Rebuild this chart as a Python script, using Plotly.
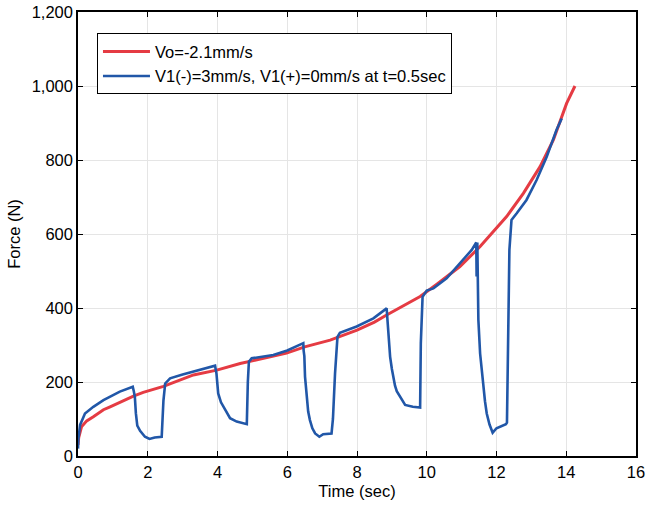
import plotly.graph_objects as go

# Red series: Vo = -2.1 mm/s
red_t = [0, 0.02, 0.1, 0.25, 0.44, 0.73, 0.92, 1.3, 1.59, 1.87, 2.45, 3.31, 3.98, 4.65,
         5.5, 5.98, 6.5, 7.23, 8.0, 8.5, 8.85, 9.3, 9.81, 10.3, 10.95, 11.53, 12.29,
         12.77, 13.25, 13.63, 14.01, 14.25]
red_f = [30, 50, 79, 95, 106, 125, 133, 150, 162, 172, 188, 219, 232, 250,
         268, 278, 295, 313, 340, 362, 381, 405, 431, 465, 512, 566, 647,
         710, 782, 854, 953, 1000]

# Blue series: V1(-)=3mm/s, V1(+)=0mm/s at t=0.5sec
blue_t = [0, 0.01, 0.06, 0.2, 0.44, 0.73, 1.2, 1.57, 1.6, 1.63, 1.66, 1.7, 1.78, 1.85,
          1.92, 2.05, 2.2, 2.4, 2.45, 2.5, 2.64, 3.0, 3.5, 3.93, 3.97, 4.02, 4.1, 4.17,
          4.26, 4.36, 4.55, 4.79, 4.84, 4.87, 4.9, 4.98, 5.6, 6.0, 6.46, 6.47, 6.49,
          6.51, 6.56, 6.6, 6.65, 6.72, 6.8, 6.92, 7.03, 7.27, 7.31, 7.37, 7.44, 7.51,
          7.99, 8.47, 8.85, 8.9, 8.95, 9.0, 9.04, 9.09, 9.14, 9.23, 9.38, 9.6, 9.81,
          9.83, 9.88, 10.0, 10.19, 10.57, 10.95, 11.29, 11.42, 11.43, 11.45, 11.48,
          11.53, 11.58, 11.62, 11.67, 11.72, 11.8, 11.89, 12.0, 12.27, 12.3, 12.37,
          12.43, 12.58, 12.86, 13.15, 13.44, 13.58, 13.72, 13.87]
blue_f = [20, 45, 84, 115, 133, 151, 174, 187, 175, 160, 115, 82, 68, 59,
          52, 46, 50, 52, 150, 196, 210, 220, 232, 244, 223, 169, 145, 133,
          115, 102, 93, 88, 86, 200, 255, 264, 273, 285, 305, 285, 270,
          214, 151, 120, 97, 75, 61, 52, 59, 61, 100, 223, 322, 333,
          350, 372, 399, 341, 268, 235, 214, 190, 175, 160, 138, 133, 131,
          305, 430, 447, 453, 480, 521, 557, 577, 485, 577, 368,
          277, 225, 187, 148, 115, 85, 63, 75, 86, 90, 557,
          638, 656, 692, 746, 809, 845, 881, 912]

x_ticks = [0, 2, 4, 6, 8, 10, 12, 14, 16]
y_ticks = [0, 200, 400, 600, 800, 1000, 1200]

RED = "#e53b43"
BLUE = "#2157a8"
FONT = "Liberation Sans, Arial, Helvetica, sans-serif"

fig = go.Figure()
fig.add_trace(go.Scatter(x=red_t, y=red_f, mode="lines", name="Vo=-2.1mm/s",
                         line=dict(color=RED, width=3)))
fig.add_trace(go.Scatter(x=blue_t, y=blue_f, mode="lines",
                         name="V1(-)=3mm/s, V1(+)=0mm/s at t=0.5sec",
                         line=dict(color=BLUE, width=2.6)))

axis_common = dict(showline=True, linecolor="black", linewidth=1.5, mirror="ticks",
                   ticks="inside", ticklen=5, tickwidth=1.2, tickcolor="black",
                   showgrid=True, gridcolor="#e5e5e5", gridwidth=1, zeroline=False,
                   automargin=False,
                   tickfont=dict(family=FONT, size=16.5, color="black"))

fig.update_layout(
    width=649, height=507,
    margin=dict(l=78, r=13, t=12, b=51),
    paper_bgcolor="white", plot_bgcolor="white",
    font=dict(family=FONT, size=16, color="black"),
    xaxis=dict(range=[0, 16], tickvals=x_ticks,
               title=dict(text="Time (sec)", font=dict(family=FONT, size=16.5), standoff=6),
               **axis_common),
    yaxis=dict(range=[0, 1200], tickvals=y_ticks, tickformat=",",
               title=dict(text="Force (N)", font=dict(family=FONT, size=16.5), standoff=7),
               **axis_common),
    legend=dict(x=0.034, y=0.952, xanchor="left", yanchor="top",
                bgcolor="white", bordercolor="black", borderwidth=1,
                font=dict(family=FONT, size=16.5), tracegroupgap=0,
                itemwidth=47),
    showlegend=True,
)

fig.write_html("out.html",
               config={"displayModeBar": False},
               post_script="document.body.style.margin='0';document.body.style.overflow='hidden';")
